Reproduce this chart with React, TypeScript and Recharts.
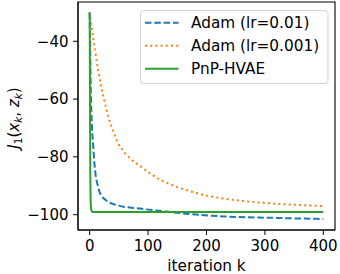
import React from 'react';
import { LineChart, Line, XAxis, YAxis, ReferenceArea, Legend } from 'recharts';

const xTicks = [0, 100, 200, 300, 400];
const yTicks = [-100, -80, -60, -40];
const seriesNames = ['Adam (lr=0.01)', 'Adam (lr=0.001)', 'PnP-HVAE'];

const iterAdam01 = [0, 1, 2, 3, 4, 6, 8, 10, 14, 18, 28, 48, 86, 130, 172, 228, 314, 400];
const lossAdam01 = [-30, -45, -58, -65, -70, -76, -82, -86, -90, -92.7, -95, -96.8, -97.9, -98.9, -99.8, -100.6, -101.1, -101.5];

const iterAdam001 = [0, 2, 5, 9, 13.6, 19, 25, 32, 40, 48, 60, 70, 89, 103, 119, 143, 169, 194, 229, 274, 326, 400];
const lossAdam001 = [-30, -33, -37.3, -43, -48.9, -55, -60.4, -66.2, -71, -75, -78.5, -80.6, -83.6, -85.6, -87.7, -89.9, -91.7, -93.1, -94.4, -95.5, -96.3, -97.0];

const iterPnp = [0, 1, 2, 3, 5, 10, 400];
const lossPnp = [-30, -85, -97, -98.6, -99.1, -99.1, -99.1];

const toData = (ks: number[], vs: number[]) => ks.map((k, i) => ({ k, v: vs[i] }));
const dataAdam01 = toData(iterAdam01, lossAdam01);
const dataAdam001 = toData(iterAdam001, lossAdam001);
const dataPnp = toData(iterPnp, lossPnp);

const X_DOMAIN: [number, number] = [-20, 420];
const Y_DOMAIN: [number, number] = [-105.3, -26.4];

const FONT = '"DejaVu Sans", sans-serif';
const BLUE = '#1f77b4';
const ORANGE = '#ff7f0e';
const GREEN = '#2ca02c';
const styles = [
  { color: BLUE, dash: '6.5 2.8' },
  { color: ORANGE, dash: '2 3.2' },
  { color: GREEN, dash: undefined as string | undefined },
];

const fmt = (v: number) => String(v).replace('-', '\u2212');

const YLabel = () => (
  <text transform="rotate(-90)" x={-118} y={19} textAnchor="middle" fontFamily={FONT} fontSize={15} fill="#000">
    <tspan fontStyle="italic">J</tspan>
    <tspan fontSize={10.5} dy={3}>1</tspan>
    <tspan dy={-3}>(</tspan>
    <tspan fontStyle="italic">x</tspan>
    <tspan fontStyle="italic" fontSize={10.5} dy={3}>k</tspan>
    <tspan dy={-3}>, </tspan>
    <tspan fontStyle="italic">z</tspan>
    <tspan fontStyle="italic" fontSize={10.5} dy={3}>k</tspan>
    <tspan dy={-3}>)</tspan>
  </text>
);

const LegendBox = () => (
  <svg width={189} height={75} style={{ display: 'block' }}>
    <rect x={0.5} y={0.5} width={187.5} height={73} rx={3} ry={3} fill="rgba(255,255,255,0.8)" stroke="#d0d0d0" strokeWidth={1} />
    {seriesNames.map((name, i) => {
      const cy = 12.7 + i * 23;
      return (
        <g key={name}>
          <line x1={5} x2={38.5} y1={cy} y2={cy} stroke={styles[i].color} strokeWidth={2} strokeDasharray={styles[i].dash} />
          <text x={51} y={cy} dy="0.36em" fontFamily={FONT} fontSize={15.3} fill="#000">{name}</text>
        </g>
      );
    })}
  </svg>
);

export default function App() {
  return (
    <div style={{ position: 'absolute', left: 0, top: 0, width: 340, height: 274, background: '#fff' }}>
      <LineChart width={340} height={274} margin={{ top: 2, right: 5, bottom: 0, left: 0 }}>
        <XAxis
          type="number"
          dataKey="k"
          domain={X_DOMAIN}
          ticks={xTicks}
          allowDataOverflow
          height={44}
          tickSize={5}
          tickMargin={5}
          stroke="#000"
          tick={{ fill: '#000', fontSize: 15, fontFamily: FONT }}
          tickFormatter={fmt}
          label={{ value: 'iteration k', position: 'insideBottom', offset: 3, fill: '#000', fontSize: 15.3, fontFamily: FONT }}
        />
        <YAxis
          type="number"
          domain={Y_DOMAIN}
          ticks={yTicks}
          allowDataOverflow
          width={78}
          tickSize={5}
          tickMargin={4.5}
          stroke="#000"
          tick={{ fill: '#000', fontSize: 15, fontFamily: FONT }}
          tickFormatter={fmt}
          label={<YLabel />}
        />
        <ReferenceArea x1={X_DOMAIN[0]} x2={X_DOMAIN[1]} y1={Y_DOMAIN[0]} y2={Y_DOMAIN[1]} fill="none" stroke="#000" strokeWidth={1.1} ifOverflow="visible" />
        <Line data={dataAdam01} dataKey="v" name={seriesNames[0]} type="monotone" stroke={BLUE} strokeWidth={2} strokeDasharray={styles[0].dash} dot={false} isAnimationActive={false} />
        <Line data={dataAdam001} dataKey="v" name={seriesNames[1]} type="monotone" stroke={ORANGE} strokeWidth={2} strokeDasharray={styles[1].dash} dot={false} isAnimationActive={false} />
        <Line data={dataPnp} dataKey="v" name={seriesNames[2]} type="monotone" stroke={GREEN} strokeWidth={2} dot={false} isAnimationActive={false} />
        <Legend
          layout="vertical"
          align="center"
          verticalAlign="middle"
          content={<LegendBox />}
          wrapperStyle={{ left: 140, top: 9.5, width: 189, height: 75 }}
        />
      </LineChart>
    </div>
  );
}
